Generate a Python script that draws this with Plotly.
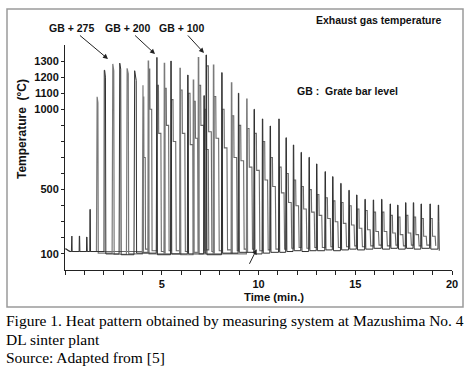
import plotly.graph_objects as go

# ---- data ----
# small spikes before the main pattern
pre_t = [0.34, 0.74, 1.12, 1.29]
pre_peak = [211, 211, 205, 377]

# main cycles: time of rise (min), peak, first plateau, second plateau, trough (degC), duration (min)
cyc_t = [1.64, 2.03, 2.45, 2.81, 3.19, 3.58, 4.01, 4.30, 4.73, 5.13, 5.47, 5.94, 6.34, 6.63,
         6.89, 7.18, 7.29, 7.67, 8.10, 8.60, 8.96, 9.39, 9.77, 10.20, 10.60, 11.05, 11.42,
         11.80, 12.20, 12.61, 13.00, 13.44, 13.83, 14.25, 14.67, 15.07, 15.50, 15.93, 16.36,
         16.80, 17.19, 17.60, 18.00, 18.40, 18.86, 19.29]
cyc_peak = [1078, 1243, 1282, 1287, 1255, 1240, 1150, 1300, 1323, 1286, 1300, 1255, 1213, 1182,
            1321, 1085, 1338, 1275, 1228, 1165, 1100, 1064, 1000, 940, 896, 940, 823,
            778, 732, 701, 660, 612, 581, 539, 496, 467, 440, 436, 440,
            411, 404, 419, 419, 411, 411, 404]
cyc_step1 = [1040, 1200, 1240, 1250, 1220, 1180, 1080, 1250, 1150, 1130, 1060, 1120, 1100, 1050,
             1150, 1000, 1270, 1080, 1000, 960, 900, 880, 850, 800, 700, 640, 600,
             560, 520, 500, 470, 450, 430, 420, 400, 380, 370, 360, 360,
             340, 330, 340, 330, 320, 320, 300]
cyc_step2 = [1040, 1200, 1240, 1250, 1220, 900, 700, 1000, 850, 900, 800, 850, 780, 820,
             900, 750, 860, 820, 760, 700, 680, 640, 620, 560, 520, 480, 420,
             400, 380, 360, 340, 320, 300, 290, 280, 260, 250, 240, 240,
             230, 220, 230, 220, 210, 210, 200]
cyc_trough = [105, 100, 98, 95, 100, 105, 110, 100, 95, 100, 100, 95, 100, 110,
              100, 105, 95, 100, 105, 100, 110, 110, 100, 105, 110, 110, 115,
              120, 115, 120, 120, 125, 120, 125, 130, 125, 130, 135, 130,
              135, 130, 135, 130, 135, 130, 120]
cyc_dur = [0.08, 0.08, 0.09, 0.09, 0.10, 0.12, 0.15, 0.20, 0.25, 0.25, 0.28, 0.28, 0.30, 0.25,
           0.30, 0.25, 0.30, 0.30, 0.30, 0.30, 0.30, 0.30, 0.30, 0.30, 0.30, 0.30, 0.30,
           0.30, 0.30, 0.30, 0.30, 0.30, 0.30, 0.30, 0.30, 0.30, 0.30, 0.30, 0.30,
           0.30, 0.30, 0.30, 0.30, 0.30, 0.30, 0.05]
cyc_pen = ["g", "k", "g", "k", "g", "k", "g", "g", "k", "g", "k", "g", "k", "g",
           "g", "k", "k", "g", "k", "g", "k", "g", "k", "k", "k", "k", "k",
           "k", "k", "k", "k", "k", "k", "k", "k", "k", "k", "k", "k",
           "k", "k", "k", "k", "k", "k", "k"]

baseline_start = 132
baseline_level = 115

x_ticks = list(range(0, 21))
x_labels = ["5" if v == 5 else "10" if v == 10 else "15" if v == 15 else "20" if v == 20 else "" for v in x_ticks]
y_ticks = list(range(100, 1400, 100))
y_labeled = [100, 500, 1000, 1100, 1200, 1300]
y_labels = [str(v) if v in y_labeled else "" for v in y_ticks]


def build_spikes(pen):
    xs = [0.03, 0.25]
    ys = [baseline_start, baseline_level]
    last = baseline_level
    if pen == "k":
        for t, p in zip(pre_t, pre_peak):
            xs += [t - 0.01, t, t + 0.015, t + 0.03]
            ys += [last, p, p, baseline_level]
    for t, p, s1, tr, d, pn in zip(cyc_t, cyc_peak, cyc_step1, cyc_trough, cyc_dur, cyc_pen):
        if pn != pen:
            continue
        if d <= 0.12:
            xs += [t - 0.015, t, t + 0.02, t + d - 0.02, t + d]
            ys += [last, p, p, s1, tr]
        else:
            xs += [t - 0.015, t, t + 0.02, t + 0.045]
            ys += [last, p, p, tr]
        last = tr
    return xs, ys


def build_body():
    xs = [0.03, 0.25]
    ys = [baseline_start, baseline_level]
    last = baseline_level
    for t, p, s1, s2, tr, d in zip(cyc_t, cyc_peak, cyc_step1, cyc_step2, cyc_trough, cyc_dur):
        if d <= 0.12:
            continue
        xs += [t + 0.01, t + 0.035, t + 0.4 * d, t + 0.45 * d, t + 0.9 * d, t + d]
        ys += [last, s1, s1, s2, s2, tr + 20]
        last = tr + 20
    return xs, ys


fig = go.Figure()
bx, by = build_body()
fig.add_trace(go.Scatter(x=bx, y=by, mode="lines", line=dict(color="#6a6a6a", width=1.1),
                         hoverinfo="skip", showlegend=False))
for pen, col, wd in (("g", "#7a7a7a", 1.2), ("k", "#303030", 1.0)):
    xs, ys = build_spikes(pen)
    fig.add_trace(go.Scatter(x=xs, y=ys, mode="lines", line=dict(color=col, width=wd),
                             hoverinfo="skip", showlegend=False))

PX0, PX1, PY0, PY1 = 65, 452, 45, 270
W, H = 475, 367


def px(x):
    return (x - PX0) / (PX1 - PX0)


def py(y):
    return (PY1 - y) / (PY1 - PY0)


anns = []
lab_font = dict(family="Liberation Sans", size=10.5, color="#111")
for txt, cx, tipx, tipy in (("<b>GB + 275</b>", 71, 108, 59), ("<b>GB + 200</b>", 127, 155, 54),
                            ("<b>GB + 100</b>", 181, 204, 53)):
    anns.append(dict(x=(tipx - PX0) / 19.35, y=(PY1 - tipy) / 0.1607, xref="x", yref="y",
                     text=txt, showarrow=True, ax=cx - tipx, ay=28 - tipy,
                     arrowhead=2, arrowsize=1, arrowwidth=1, arrowcolor="#222", font=lab_font))
anns.append(dict(x=(256.7 - PX0) / 19.35, y=(PY1 - 249.3) / 0.1607, xref="x", yref="y", text="",
                 showarrow=True, ax=-8, ay=16, arrowhead=2, arrowsize=1, arrowwidth=1, arrowcolor="#222"))
anns.append(dict(x=px(379), y=py(20), xref="paper", yref="paper", text="<b>Exhaust gas temperature</b>",
                 showarrow=False, font=lab_font, xanchor="center", yanchor="middle"))
anns.append(dict(x=px(347), y=py(91), xref="paper", yref="paper", text="<b>GB :  Grate bar level</b>",
                 showarrow=False, font=lab_font, xanchor="center", yanchor="middle"))
anns.append(dict(x=px(22), y=py(129), xref="paper", yref="paper", text="<b>Temperature  (°C)</b>",
                 textangle=-90, showarrow=False, font=dict(family="Liberation Sans", size=12, color="#111"),
                 xanchor="center", yanchor="middle"))
anns.append(dict(x=px(274), y=py(297), xref="paper", yref="paper", text="<b>Time (min.)</b>",
                 showarrow=False, font=dict(family="Liberation Sans", size=11.3, color="#111"),
                 xanchor="center", yanchor="middle"))
cap_font = dict(family="Liberation Serif", size=15.5, color="#000")
for txt, cy in (("Figure 1. Heat pattern obtained by measuring system at Mazushima No. 4", 320),
                ("DL sinter plant", 339), ("Source: Adapted from [5]", 357)):
    anns.append(dict(x=px(4), y=py(cy), xref="paper", yref="paper", text=txt, showarrow=False,
                     font=cap_font, xanchor="left", yanchor="middle"))

fig.update_layout(
    width=W, height=H,
    margin=dict(l=PX0, r=W - PX1, t=PY0, b=H - PY1),
    paper_bgcolor="white", plot_bgcolor="white",
    annotations=anns,
    shapes=[dict(type="rect", xref="paper", yref="paper", x0=px(7), x1=px(463), y0=py(307), y1=py(9),
                 line=dict(color="#9a9a9a", width=1.5), layer="below")],
    xaxis=dict(range=[0, 20], tickvals=x_ticks, ticktext=x_labels, ticks="outside", ticklen=4,
               tickcolor="#222", showline=True, linecolor="#222", linewidth=1, showgrid=False,
               zeroline=False, tickfont=dict(family="Liberation Sans", size=11, color="#111", weight="bold"),
               fixedrange=True),
    yaxis=dict(range=[0, 1400], tickvals=y_ticks, ticktext=y_labels, ticks="outside", ticklen=3,
               tickcolor="#222", showline=True, linecolor="#222", linewidth=1, showgrid=False,
               zeroline=False, tickfont=dict(family="Liberation Sans", size=11, color="#111", weight="bold"),
               fixedrange=True),
)
fig.write_html("out.html", config={"displayModeBar": False},
               post_script="document.body.style.margin='0';document.body.style.overflow='hidden';")
